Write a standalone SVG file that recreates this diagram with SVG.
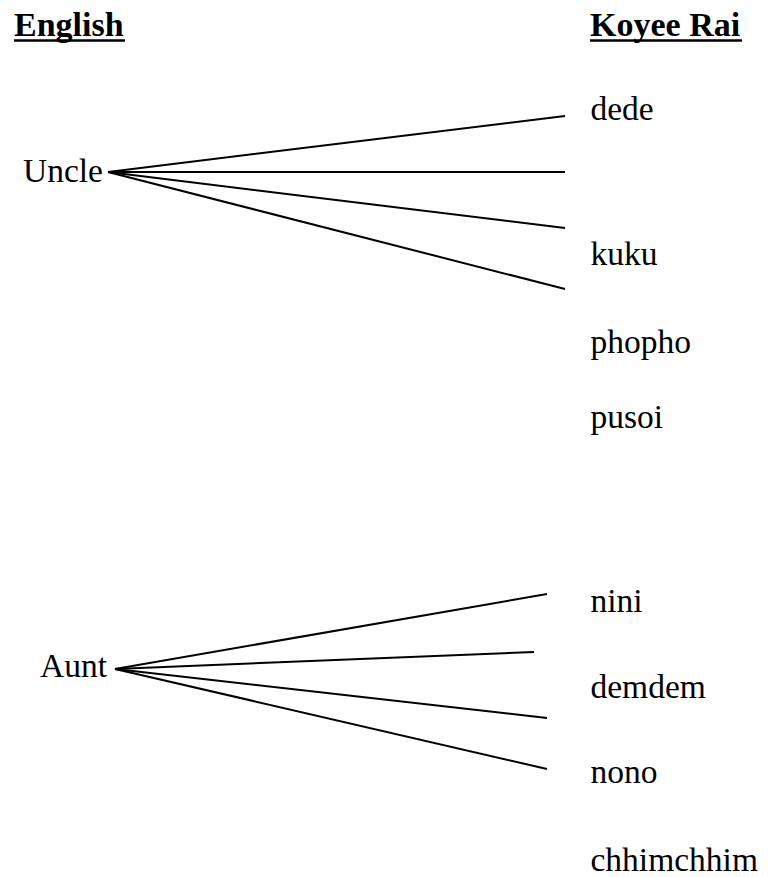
<svg xmlns="http://www.w3.org/2000/svg" width="768" height="877" viewBox="0 0 768 877">
  <style>
    text { font-family: "Liberation Serif", "Times New Roman", serif; fill: #000; }
    .head { font-size: 34px; font-weight: bold; }
    .word { font-size: 33.5px; }
    .ul { stroke: #000; stroke-width: 2.6; }
    .link { stroke: #000; stroke-width: 2; fill: none; }
  </style>
  <rect width="768" height="877" fill="#fff"/>

  <!-- column headings -->
  <g id="heading-english">
    <text class="head" x="14" y="36">English</text>
    <line class="ul" x1="14" y1="40.5" x2="125" y2="40.5"/>
  </g>
  <g id="heading-koyee-rai">
    <text class="head" x="590" y="36">Koyee Rai</text>
    <line class="ul" x1="590" y1="40.5" x2="742" y2="40.5"/>
  </g>

  <!-- English terms -->
  <g id="uncle"><text class="word" x="23" y="182">Uncle</text></g>
  <g id="aunt"><text class="word" x="40" y="677">Aunt</text></g>

  <!-- Koyee Rai terms -->
  <g id="dede"><text class="word" x="590.5" y="119.5">dede</text></g>
  <g id="kuku"><text class="word" x="590.5" y="265">kuku</text></g>
  <g id="phopho"><text class="word" x="590.5" y="353">phopho</text></g>
  <g id="pusoi"><text class="word" x="590.5" y="428">pusoi</text></g>
  <g id="nini"><text class="word" x="590.5" y="612">nini</text></g>
  <g id="demdem"><text class="word" x="590.5" y="698">demdem</text></g>
  <g id="nono"><text class="word" x="590.5" y="783">nono</text></g>
  <g id="chhimchhim"><text class="word" x="590.5" y="871">chhimchhim</text></g>

  <!-- fan-out connectors -->
  <g id="connectors">
    <line class="link" x1="108" y1="172" x2="565" y2="116"/>
    <line class="link" x1="108" y1="172" x2="565" y2="172"/>
    <line class="link" x1="108" y1="172" x2="565" y2="228"/>
    <line class="link" x1="108" y1="172" x2="565" y2="289"/>

    <line class="link" x1="115" y1="669" x2="547" y2="594"/>
    <line class="link" x1="115" y1="669" x2="534" y2="652"/>
    <line class="link" x1="115" y1="669" x2="547" y2="718"/>
    <line class="link" x1="115" y1="669" x2="547" y2="769"/>
  </g>
</svg>
